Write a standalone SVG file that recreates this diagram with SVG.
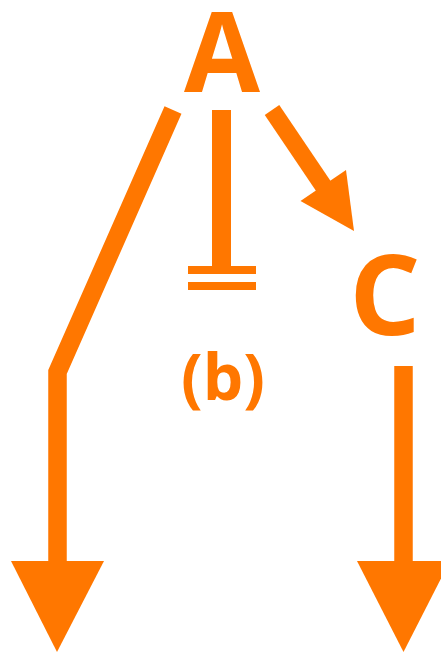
<svg xmlns="http://www.w3.org/2000/svg" width="441" height="652" viewBox="0 0 441 652">
<style>
.lbl{font-family:"Open Sans","Liberation Sans",sans-serif;font-weight:bold;fill:#FF7700;text-anchor:middle}
.ln{stroke:#FF7700;fill:none;stroke-linecap:butt;stroke-linejoin:miter}
.hd{fill:#FF7700;stroke:none}
</style>
<rect width="441" height="652" fill="#FFFFFF"/>
<g id="connectors">
<polyline class="ln" stroke-width="18.5" points="173,110 57.5,372 57.5,562"/>
<polygon class="hd" points="11,561 104,561 57,652"/>
<line class="ln" stroke-width="19" x1="221.5" y1="110" x2="221.5" y2="267"/>
<rect class="hd" x="188" y="266" width="68" height="8"/>
<rect class="hd" x="188" y="282" width="68" height="8"/>
<line class="ln" stroke-width="17.5" x1="272" y1="110" x2="324" y2="187"/>
<polygon class="hd" points="300.5,201 346,170 354,231"/>
<line class="ln" stroke-width="18.5" x1="403.5" y1="366" x2="403.5" y2="562"/>
<polygon class="hd" points="357,561 450,561 403.5,652"/>
</g>
<g id="node-A"><text class="lbl" x="222" y="92" font-size="112" textLength="76" lengthAdjust="spacingAndGlyphs">A</text></g>
<g id="node-C"><text class="lbl" x="385" y="335" font-size="112">C</text></g>
<g id="label-b"><text class="lbl" x="223" y="400" font-size="64">(b)</text></g>
</svg>
